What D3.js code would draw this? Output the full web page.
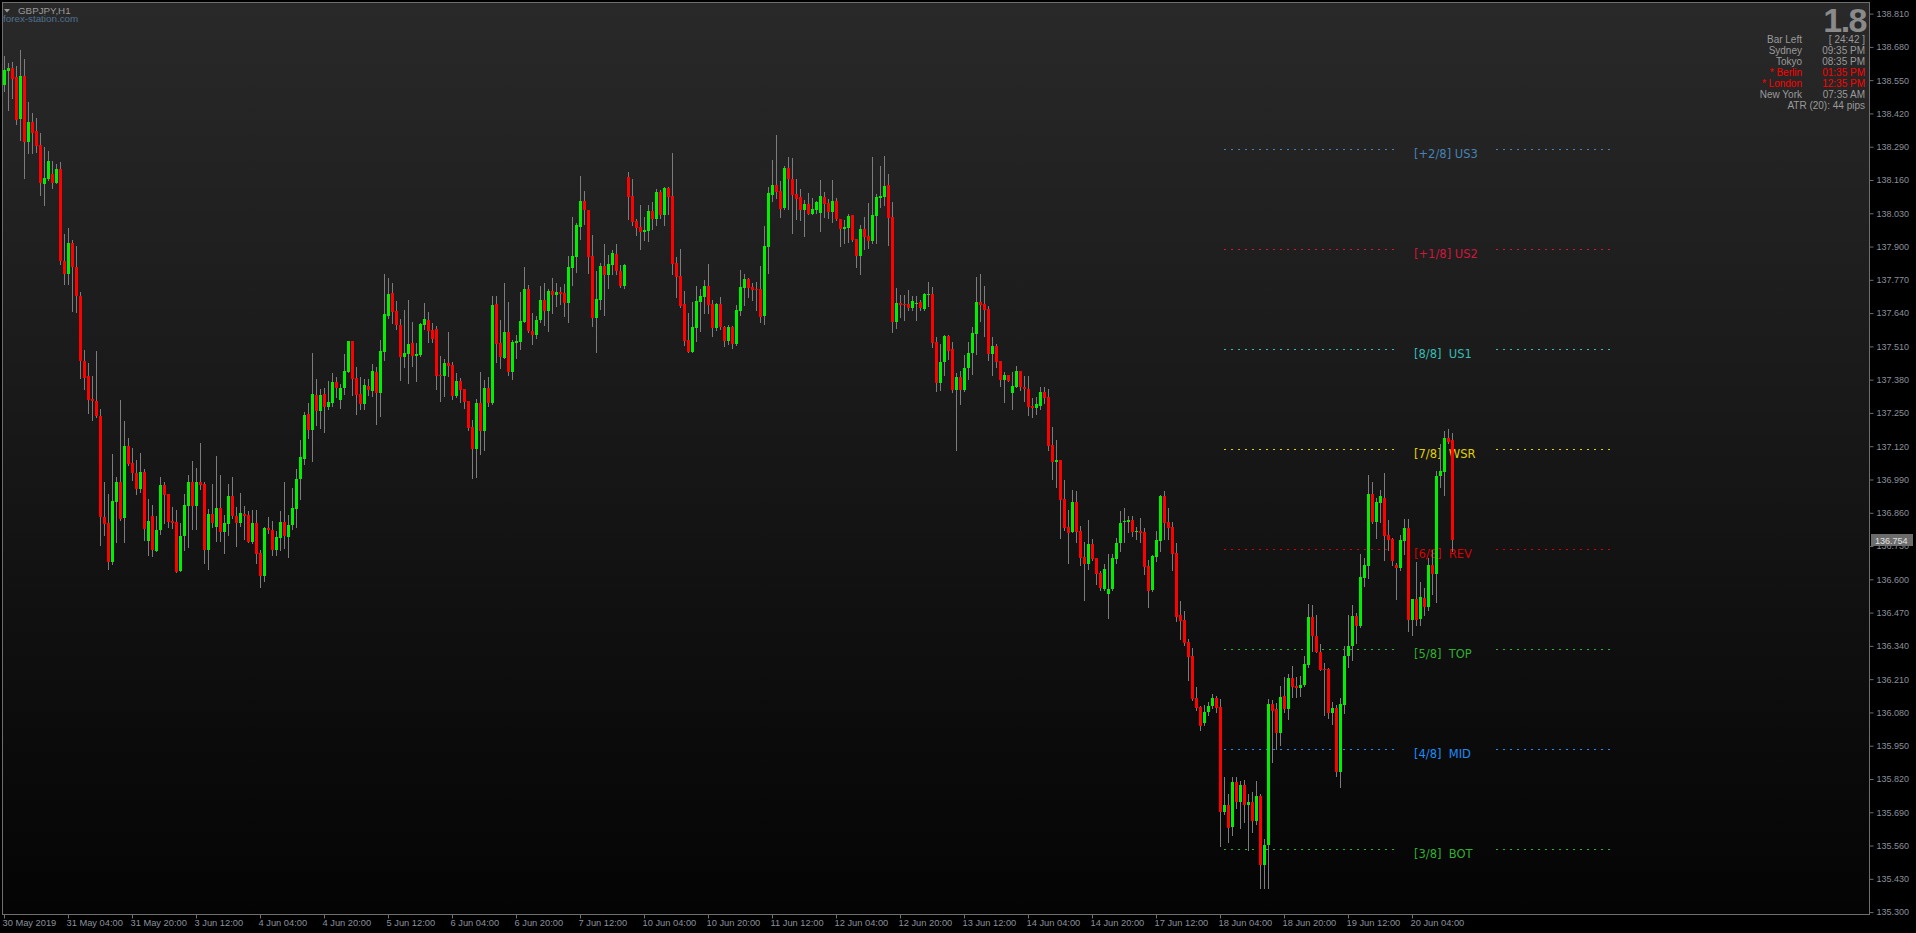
<!DOCTYPE html>
<html><head><meta charset="utf-8">
<script src="https://cdn.jsdelivr.net/npm/d3@7"></script>
<style>
html,body{margin:0;padding:0;background:#000;overflow:hidden}
svg{display:block}
text{font-family:"Liberation Sans",Arial,sans-serif}
</style></head><body>
<svg id="chart" width="1916" height="933"></svg>
<script>
// ---------------- DATA (GBPJPY H1, 30 May 2019 12:00 .. 20 Jun 2019 14:00) ----------------
const opens=[
138.531,138.587,138.598,138.563,138.398,138.567,138.310,138.387,138.352,138.297,
138.146,138.165,138.184,138.149,138.204,137.845,137.791,137.915,137.820,137.708,
137.453,137.393,137.305,137.297,137.239,136.845,136.821,136.669,136.901,136.980,
136.838,137.121,137.055,137.017,136.954,137.020,136.750,136.847,136.709,136.791,
136.969,136.934,136.828,136.824,136.631,136.768,136.888,136.980,136.888,136.980,
136.973,136.713,136.855,136.805,136.879,136.786,136.815,136.925,136.846,136.819,
136.855,136.851,136.746,136.821,136.703,136.614,136.801,136.794,136.716,136.762,
136.824,136.766,136.812,136.875,136.990,137.071,137.246,137.184,137.320,137.256,
137.324,137.273,137.290,137.371,137.302,137.349,137.410,137.531,137.387,137.324,
137.283,137.355,137.337,137.410,137.329,137.489,137.630,137.717,137.647,137.593,
137.470,137.481,137.523,137.474,137.476,137.593,137.613,137.574,137.578,137.398,
137.395,137.445,137.437,137.317,137.376,137.345,137.298,137.196,137.110,137.287,
137.181,137.347,137.290,137.674,137.523,137.466,137.566,137.411,137.524,137.528,
137.606,137.734,137.570,137.554,137.613,137.691,137.648,137.726,137.711,137.722,
137.718,137.679,137.816,137.860,137.976,138.078,138.043,137.863,137.622,137.691,
137.824,137.790,137.828,137.871,137.804,137.747,138.171,138.097,138.001,137.976,
137.957,137.961,138.039,138.007,138.113,138.023,138.129,138.097,137.836,137.785,
137.677,137.536,137.489,137.582,137.683,137.703,137.746,137.677,137.582,137.677,
137.586,137.531,137.586,137.520,137.648,137.739,137.773,137.742,137.734,137.734,
137.629,137.898,138.101,138.140,138.117,138.050,138.207,138.164,138.105,138.093,
138.042,138.066,138.027,138.042,138.031,138.093,138.070,138.035,138.078,138.007,
137.968,137.972,138.023,137.929,137.863,137.968,137.941,137.921,138.019,138.089,
138.093,138.140,138.015,137.605,137.679,137.675,137.675,137.660,137.675,137.683,
137.656,137.710,137.714,137.527,137.367,137.449,137.550,137.500,137.339,137.390,
137.339,137.425,137.484,137.558,137.683,137.675,137.656,137.480,137.511,137.453,
137.378,137.398,137.328,137.351,137.414,137.351,137.343,137.277,137.269,137.277,
137.332,137.312,137.125,137.058,137.066,136.914,136.804,136.785,136.902,136.789,
136.687,136.660,136.738,136.683,136.625,136.561,136.541,136.561,136.678,136.742,
136.823,136.825,136.831,136.784,136.788,136.784,136.652,136.559,136.688,136.750,
136.925,136.824,136.804,136.703,136.460,136.440,136.354,136.300,136.136,136.101,
136.037,136.080,136.105,136.136,136.102,135.690,135.719,135.632,135.807,135.729,
135.796,135.719,135.729,135.655,135.754,135.484,135.562,136.111,136.092,136.000,
136.146,136.092,136.214,136.183,136.177,136.189,136.265,136.454,136.379,136.317,
136.249,136.249,136.076,136.097,135.847,136.110,136.301,136.338,136.458,136.418,
136.606,136.652,136.933,136.824,136.898,136.917,136.773,136.757,136.654,136.645,
136.750,136.802,136.441,136.524,136.445,136.528,136.493,136.654,136.622,137.002,
137.019,137.153,137.144];
const highs=[
138.645,138.617,138.620,138.604,138.668,138.632,138.465,138.421,138.402,138.342,
138.289,138.273,138.235,138.224,138.231,137.949,137.973,137.925,137.902,137.723,
137.497,137.446,137.395,137.493,137.267,136.980,136.934,137.090,137.001,137.301,
137.219,137.153,137.113,137.066,137.095,137.031,136.912,136.891,136.847,137.001,
136.980,136.934,136.883,136.872,136.821,136.934,137.006,137.062,137.035,137.134,
136.980,136.875,136.973,137.083,137.008,136.851,136.973,137.001,136.883,136.938,
136.887,136.865,136.869,136.872,136.713,136.805,136.844,136.826,136.788,136.865,
136.980,136.851,136.957,137.031,137.145,137.253,137.287,137.484,137.383,137.345,
137.347,137.376,137.406,137.391,137.362,137.480,137.531,137.531,137.430,137.391,
137.383,137.383,137.441,137.429,137.535,137.793,137.777,137.756,137.686,137.617,
137.652,137.691,137.605,137.523,137.601,137.679,137.644,137.601,137.588,137.472,
137.461,137.566,137.450,137.407,137.388,137.345,137.298,137.222,137.306,137.410,
137.379,137.390,137.707,137.707,137.613,137.756,137.682,137.536,137.556,137.721,
137.820,137.750,137.640,137.630,137.746,137.756,137.734,137.777,137.756,137.743,
137.754,137.863,138.015,137.992,138.175,138.117,138.043,137.945,137.804,137.836,
137.910,137.867,137.886,137.910,137.828,137.832,138.191,138.164,138.007,138.062,
138.015,138.062,138.074,138.125,138.121,138.132,138.132,138.265,137.859,137.890,
137.726,137.640,137.683,137.746,137.734,137.769,137.832,137.691,137.681,137.703,
137.590,137.593,137.590,137.670,137.808,137.793,137.777,137.757,137.761,137.824,
137.980,138.132,138.238,138.335,138.156,138.214,138.249,138.246,138.164,138.124,
138.082,138.109,138.089,138.078,138.160,138.113,138.085,138.160,138.089,138.007,
138.003,138.027,138.023,137.929,137.984,138.015,138.070,138.249,138.105,138.214,
138.253,138.183,138.074,137.738,137.710,137.710,137.730,137.707,137.707,137.691,
137.718,137.761,137.742,137.546,137.519,137.554,137.554,137.527,137.406,137.414,
137.476,137.527,137.585,137.781,137.793,137.746,137.667,137.546,137.519,137.453,
137.410,137.398,137.410,137.433,137.414,137.394,137.394,137.308,137.312,137.351,
137.351,137.343,137.195,137.144,137.066,136.988,136.871,136.949,136.945,136.808,
136.746,136.832,136.758,136.683,136.633,136.660,136.699,136.700,136.761,136.867,
136.880,136.847,136.847,136.804,136.841,136.801,136.674,136.696,136.788,136.928,
136.945,136.878,136.824,136.743,136.514,136.475,136.366,136.331,136.181,136.107,
136.110,136.119,136.152,136.144,136.134,135.826,135.761,135.826,135.826,135.814,
135.818,135.762,135.771,135.811,135.762,135.586,136.133,136.130,136.118,136.185,
136.220,136.229,136.261,136.220,136.224,136.299,136.502,136.499,136.460,136.348,
136.272,136.254,136.119,136.109,136.138,136.339,136.460,136.498,136.470,136.699,
136.685,137.006,136.980,136.918,136.949,137.015,136.831,136.761,136.665,136.774,
136.837,136.837,136.522,136.666,136.588,136.568,136.685,136.713,137.022,137.127,
137.178,137.188,137.171];
const lows=[
138.508,138.435,138.480,138.379,138.315,138.169,138.264,138.267,138.271,138.102,
138.064,138.161,138.127,138.149,137.830,137.754,137.754,137.650,137.645,137.388,
137.342,137.250,137.224,137.236,136.736,136.775,136.639,136.658,136.747,136.832,
136.745,137.047,136.988,136.935,136.942,136.753,136.695,136.691,136.709,136.777,
136.819,136.805,136.802,136.627,136.631,136.716,136.728,136.795,136.798,136.951,
136.662,136.640,136.805,136.749,136.749,136.701,136.775,136.839,136.732,136.809,
136.756,136.746,136.743,136.665,136.569,136.592,136.781,136.695,136.695,136.716,
136.723,136.686,136.795,136.805,136.914,137.051,137.154,137.062,137.202,137.191,
137.177,137.264,137.276,137.312,137.271,137.325,137.408,137.321,137.247,137.264,
137.267,137.321,137.317,137.208,137.239,137.458,137.622,137.603,137.578,137.380,
137.431,137.368,137.435,137.376,137.474,137.578,137.528,137.528,137.345,137.298,
137.317,137.394,137.304,137.313,137.294,137.271,137.185,136.997,137.001,137.091,
137.106,137.278,137.286,137.450,137.427,137.466,137.399,137.384,137.466,137.501,
137.606,137.567,137.520,137.544,137.606,137.593,137.570,137.640,137.669,137.677,
137.629,137.605,137.751,137.800,137.931,137.988,137.798,137.591,137.489,137.656,
137.634,137.739,137.793,137.793,137.743,137.739,138.007,137.984,137.945,137.892,
137.927,137.922,137.970,137.984,138.011,137.984,138.027,137.793,137.704,137.665,
137.517,137.489,137.489,137.531,137.571,137.640,137.642,137.552,137.574,137.579,
137.513,137.520,137.505,137.515,137.632,137.671,137.704,137.691,137.652,137.605,
137.597,137.796,138.078,138.089,138.015,138.046,138.046,137.953,138.007,138.003,
137.941,138.027,138.027,138.031,137.960,138.015,138.011,137.996,138.003,137.902,
137.914,137.918,137.921,137.820,137.792,137.890,137.894,137.914,137.914,138.054,
138.062,137.906,137.566,137.582,137.625,137.613,137.652,137.652,137.613,137.652,
137.652,137.668,137.507,137.336,137.339,137.398,137.460,137.331,137.105,137.285,
137.336,137.382,137.402,137.480,137.609,137.550,137.457,137.398,137.429,137.355,
137.293,137.375,137.265,137.351,137.339,137.296,137.242,137.234,137.246,137.265,
137.289,137.105,136.992,136.960,136.761,136.793,136.664,136.785,136.746,136.656,
136.519,136.640,136.675,136.582,136.557,136.557,136.449,136.557,136.665,136.709,
136.746,136.784,136.770,136.757,136.746,136.622,136.493,136.555,136.670,136.709,
136.757,136.757,136.638,136.437,136.365,136.342,136.207,136.129,136.091,136.012,
136.029,136.070,136.097,136.083,135.558,135.682,135.575,135.601,135.706,135.628,
135.652,135.544,135.614,135.644,135.396,135.393,135.396,135.888,135.938,135.952,
136.083,136.056,136.140,136.140,136.144,136.184,136.258,136.321,136.315,136.245,
136.070,136.060,136.036,135.830,135.789,136.078,136.258,136.285,136.352,136.412,
136.573,136.606,136.821,136.762,136.824,136.676,136.716,136.657,136.525,136.635,
136.699,136.400,136.382,136.420,136.423,136.460,136.481,136.541,136.511,136.961,
136.928,137.134,136.709];
const closes=[
138.590,138.598,138.554,138.395,138.567,138.310,138.387,138.343,138.294,138.149,
138.168,138.235,138.149,138.204,137.842,137.791,137.915,137.819,137.705,137.451,
137.388,137.302,137.297,137.239,136.842,136.817,136.669,136.906,136.980,136.835,
137.121,137.051,137.017,136.954,137.020,136.795,136.828,136.713,136.794,136.969,
136.931,136.824,136.821,136.627,136.769,136.891,136.980,136.888,136.980,136.969,
136.713,136.855,136.819,136.879,136.786,136.819,136.925,136.846,136.819,136.860,
136.849,136.746,136.821,136.699,136.614,136.801,136.791,136.716,136.766,136.824,
136.769,136.812,136.879,136.993,137.079,137.242,137.184,137.324,137.256,137.320,
137.273,137.293,137.371,137.349,137.349,137.414,137.531,137.384,137.321,137.283,
137.360,137.338,137.414,137.329,137.492,137.636,137.715,137.645,137.593,137.470,
137.483,137.519,137.474,137.480,137.599,137.617,137.571,137.539,137.395,137.395,
137.445,137.435,137.317,137.376,137.341,137.294,137.192,137.110,137.287,137.181,
137.347,137.290,137.672,137.520,137.470,137.566,137.411,137.527,137.532,137.609,
137.734,137.570,137.554,137.613,137.691,137.648,137.726,137.711,137.722,137.714,
137.679,137.820,137.863,137.984,138.078,138.043,137.860,137.622,137.695,137.824,
137.790,137.832,137.875,137.804,137.747,137.828,138.093,137.997,137.972,137.957,
137.964,138.039,138.007,138.113,138.023,138.129,138.093,137.832,137.781,137.669,
137.530,137.489,137.586,137.687,137.707,137.746,137.672,137.582,137.677,137.586,
137.531,137.586,137.520,137.651,137.742,137.773,137.739,137.731,137.730,137.625,
137.902,138.109,138.140,138.113,138.046,138.207,138.164,138.101,138.085,138.042,
138.066,138.027,138.046,138.074,138.097,138.066,138.035,138.078,138.007,137.968,
137.976,138.019,137.925,137.863,137.968,137.937,137.921,138.023,138.093,138.097,
138.136,138.011,137.605,137.679,137.671,137.671,137.660,137.687,137.679,137.660,
137.714,137.714,137.523,137.367,137.449,137.550,137.492,137.339,137.390,137.339,
137.425,137.484,137.562,137.683,137.671,137.652,137.480,137.511,137.449,137.378,
137.398,137.375,137.355,137.414,137.351,137.343,137.273,137.269,137.285,137.332,
137.308,137.121,137.058,137.066,136.910,136.800,136.781,136.902,136.785,136.683,
136.660,136.738,136.679,136.621,136.565,136.639,136.561,136.682,136.743,136.820,
136.829,136.831,136.784,136.788,136.782,136.649,136.555,136.691,136.752,136.925,
136.821,136.801,136.700,136.454,136.437,136.351,136.297,136.131,136.099,136.027,
136.080,136.107,136.136,136.099,135.692,135.719,135.628,135.807,135.730,135.796,
135.719,135.729,135.655,135.754,135.484,135.564,136.111,136.086,136.000,136.142,
136.092,136.214,136.179,136.177,136.189,136.268,136.454,136.379,136.317,136.247,
136.246,136.076,136.097,135.847,136.111,136.301,136.338,136.458,136.418,136.608,
136.654,136.933,136.824,136.903,136.925,136.770,136.754,136.672,136.645,136.754,
136.802,136.441,136.522,136.441,136.530,136.493,136.654,136.622,137.003,137.022,
137.153,137.138,136.754];

const timeTickBars=[0,16,32,48,64,80,96,112,128,144,160,176,192,208,224,240,256,272,288,304,320,336,352];
const timeTickLabels=["30 May 2019","31 May 04:00","31 May 20:00","3 Jun 12:00","4 Jun 04:00","4 Jun 20:00",
"5 Jun 12:00","6 Jun 04:00","6 Jun 20:00","7 Jun 12:00","10 Jun 04:00","10 Jun 20:00","11 Jun 12:00",
"12 Jun 04:00","12 Jun 20:00","13 Jun 12:00","14 Jun 04:00","14 Jun 20:00","17 Jun 12:00","18 Jun 04:00",
"18 Jun 20:00","19 Jun 12:00","20 Jun 04:00"];
const priceTicks=[138.810,138.680,138.550,138.420,138.290,138.160,138.030,137.900,137.770,137.640,137.510,
137.380,137.250,137.120,136.990,136.860,136.730,136.600,136.470,136.340,136.210,136.080,135.950,135.820,
135.690,135.560,135.430,135.300];
const lastPrice=136.754;

const levelLabels=["[+2/8] US3","[+1/8] US2","[8/8]  US1","[7/8]  WSR","[6/8]  REV","[5/8]  TOP","[4/8]  MID","[3/8]  BOT"];
const levelValues=[138.28125,137.890625,137.5,137.109375,136.71875,136.328125,135.9375,135.546875];
const levelFromBar=305, levelGapFromBar=347.5, levelGapToBar=373, levelToBar=401.5;

const symbolTitle="GBPJPY,H1";
const brandText="forex-station.com";
const spreadValue="1.8";
const infoLabels=["Bar Left","Sydney","Tokyo","* Berlin","* London","New York"];
const infoValues=["[ 24:42 ]","09:35 PM","08:35 PM","01:35 PM","12:35 PM","07:35 AM"];
const infoHighlight=[false,false,false,true,true,false];
const atrText="ATR (20): 44 pips";

// ---------------- STYLE ----------------
const levelColors=["#4682b4","#d0163c","#36bcb2","#e0d000","#d80000","#30b030","#1e8cf4","#30b030"];
const bullColor="#00f000", bearColor="#ff0000", wickColor="#7c7c7c";
const axisTextColor="#8a909a";

// ---------------- DRAW ----------------
const svg=d3.select("#chart");
const W=1916,H=933;
const plotL=2,plotT=2,plotR=1869,plotB=914;

const defs=svg.append("defs");
const grad=defs.append("linearGradient").attr("id","bg").attr("x1",0).attr("y1",0).attr("x2",0).attr("y2",1);
grad.append("stop").attr("offset","0%").attr("stop-color","#292929");
grad.append("stop").attr("offset","100%").attr("stop-color","#040404");

svg.append("rect").attr("width",W).attr("height",H).attr("fill","#000");
svg.append("rect").attr("x",plotL).attr("y",plotT).attr("width",plotR-plotL).attr("height",plotB-plotT).attr("fill","url(#bg)");

const x=d3.scaleLinear().domain([0,362]).range([4,1452]);
const y=d3.scaleLinear().domain([135.300,138.810]).range([912.1,13.6]);

// Murrey levels
const lv=svg.append("g");
levelValues.forEach((v,i)=>{
  const ly=Math.round(y(v))+0.5;
  [[levelFromBar,levelGapFromBar],[levelGapToBar,levelToBar]].forEach(([a,b])=>{
    lv.append("line").attr("x1",x(a)).attr("x2",x(b)).attr("y1",ly).attr("y2",ly)
      .attr("stroke",levelColors[i]).attr("stroke-width",1.2).attr("stroke-dasharray","2,5");
  });
  lv.append("text").attr("x",x(levelGapFromBar)+20).attr("y",ly+8)
    .attr("fill",levelColors[i]).style("font-family","'DejaVu Sans',Verdana,sans-serif")
    .style("font-size","11.5px").style("white-space","pre").text(levelLabels[i]);
});

// candles
const idx=d3.range(opens.length);
const cg=svg.append("g").attr("shape-rendering","crispEdges");
cg.selectAll("rect.w").data(idx).join("rect").attr("class","w")
  .attr("x",i=>Math.round(x(i))).attr("width",1)
  .attr("y",i=>Math.round(y(highs[i])))
  .attr("height",i=>Math.max(1,Math.round(y(lows[i]))-Math.round(y(highs[i]))+1))
  .attr("fill",wickColor);
cg.selectAll("rect.b").data(idx).join("rect").attr("class","b")
  .attr("x",i=>Math.round(x(i))-1).attr("width",3)
  .attr("y",i=>Math.round(y(Math.max(opens[i],closes[i]))))
  .attr("height",i=>Math.max(1,Math.round(y(Math.min(opens[i],closes[i])))-Math.round(y(Math.max(opens[i],closes[i])))))
  .attr("fill",i=>closes[i]>opens[i]?bullColor:bearColor);

// frame
svg.append("rect").attr("x",plotL+0.5).attr("y",plotT+0.5).attr("width",plotR-plotL).attr("height",plotB-plotT)
  .attr("fill","none").attr("stroke","#6e6e6e").attr("stroke-width",1);

// price axis
const ya=svg.append("g").attr("transform",`translate(${plotR+0.5},0)`)
  .call(d3.axisRight(y).tickValues(priceTicks).tickFormat(d3.format(".3f")).tickSize(4).tickSizeOuter(0));
ya.select(".domain").remove();
ya.selectAll(".tick line").attr("stroke","#6e6e6e");
ya.selectAll(".tick text").attr("fill",axisTextColor).attr("x",7)
  .style("font-family","'Liberation Sans',Arial,sans-serif").style("font-size","9px");

// current price box
const cy=Math.round(y(lastPrice));
svg.append("rect").attr("x",plotR+2).attr("y",cy-6).attr("width",42).attr("height",12).attr("fill","#6c6c6c");
svg.append("text").attr("x",plotR+6).attr("y",cy+3.5).attr("fill","#e0e0e0")
  .style("font-size","9px").text(d3.format(".3f")(lastPrice));

// time axis
const xa=svg.append("g").attr("transform",`translate(0,${plotB+0.5})`)
  .call(d3.axisBottom(x).tickValues(timeTickBars).tickFormat((d,i)=>timeTickLabels[i]).tickSize(4).tickSizeOuter(0));
xa.select(".domain").remove();
xa.selectAll(".tick line").attr("stroke","#6e6e6e");
xa.selectAll(".tick text").attr("fill",axisTextColor).attr("text-anchor","start").attr("x",-2).attr("y",11.5).attr("dy",0)
  .style("font-family","'Liberation Sans',Arial,sans-serif").style("font-size","9.3px");

// title
svg.append("path").attr("d","M4,9 L10,9 L7,12.5 Z").attr("fill","#9a9a9a");
svg.append("text").attr("x",18).attr("y",14).attr("fill","#9a9a9a").style("font-size","9.8px").text(symbolTitle);
svg.append("text").attr("x",3).attr("y",22).attr("fill","#4f7090").style("font-size","9.8px").text(brandText);

// info panel
svg.append("text").attr("x",1866).attr("y",31.5).attr("text-anchor","end").attr("fill","#8a8a8a")
  .style("font-size","34px").style("font-weight","bold").style("letter-spacing","-1.5px").text(spreadValue);
infoLabels.forEach((t,i)=>{
  const by=43+i*10.9;
  const col=infoHighlight[i]?"#ff0000":"#9a9a9a";
  svg.append("text").attr("x",1802).attr("y",by).attr("text-anchor","end").attr("fill",col).style("font-size","10px").text(t);
  svg.append("text").attr("x",1865).attr("y",by).attr("text-anchor","end").attr("fill",col).style("font-size","10px").text(infoValues[i]);
});
svg.append("text").attr("x",1865).attr("y",43+6*10.9+0.5).attr("text-anchor","end").attr("fill","#9a9a9a").style("font-size","10px").text(atrText);
</script>
</body></html>
